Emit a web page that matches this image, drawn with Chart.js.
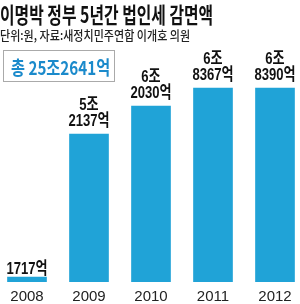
<!DOCTYPE html>
<html>
<head>
<meta charset="utf-8">
<script src="https://cdn.jsdelivr.net/npm/chart.js@4"></script>
<style>
  body { margin: 0; background: #fff; width: 300px; height: 304px; overflow: hidden; position: relative; }
  .title { position: absolute; left: 0; top: -3px; font: bold 22px "Noto Sans CJK KR"; color: #111; white-space: nowrap; transform: scaleX(0.72); transform-origin: left top; z-index: 1; }
  .sub { position: absolute; left: 0; top: 25px; font: 500 13px "Noto Sans CJK KR"; color: #222; white-space: nowrap; transform: scaleX(0.85); transform-origin: left top; z-index: 1; }
  .total { position: absolute; left: 3px; top: 50px; width: 110px; height: 30px; border: 1px solid #aaa; z-index: 1; }
  .total span { position: absolute; left: 7px; top: 2px; font: bold 19px "Noto Sans CJK KR"; color: #1b8acb; white-space: nowrap; transform: scaleX(0.8); transform-origin: left top; }
  .wrap { position: absolute; left: -4px; top: 8px; width: 310px; height: 304px; }
</style>
</head>
<body>
<div class="title">이명박 정부 5년간 법인세 감면액</div>
<div class="sub">단위:원, 자료:새정치민주연합 이개호 의원</div>
<div class="total"><span>총 25조2641억</span></div>
<div class="wrap"><canvas id="myChart"></canvas></div>
<script>
// data (unit: 억원)
const years = ['2008', '2009', '2010', '2011', '2012']
const reduction = [1717, 52137, 62030, 68367, 68390]

const barColor = '#20a3d7'
const numFont = '"Liberation Sans", "Noto Sans CJK KR", sans-serif'

// value labels above the bars: "6조" / "8367억", squeezed a bit like the print
const valueLabels = {
  id: 'valueLabels',
  afterDatasetsDraw(chart) {
    const ctx = chart.ctx
    ctx.fillStyle = '#111'
    ctx.textAlign = 'center'
    ctx.textBaseline = 'alphabetic'
    ctx.font = 'bold 17px ' + numFont
    chart.getDatasetMeta(0).data.forEach((bar, i) => {
      const v = reduction[i]
      const jo = Math.floor(v / 10000)
      const eok = v % 10000
      ctx.save()
      ctx.translate(bar.x, bar.y)
      ctx.scale(0.77, 1)
      if (jo > 0) {
        ctx.fillText(jo + '조', 0, -24)
        ctx.fillText(eok + '억', 0, -8)
      } else {
        ctx.fillText(eok + '억', 0, -3)
      }
      ctx.restore()
    })
  }
}

const ctx = document.getElementById('myChart').getContext('2d')
const myChart = new Chart(ctx, {
  type: 'bar',
  data: {
    labels: years,
    datasets: [{
      data: reduction,
      backgroundColor: barColor,
      barThickness: 39,
    }]
  },
  options: {
    responsive: true,
    maintainAspectRatio: false,
    animation: false,
    layout: { padding: 0 },
    plugins: {
      legend: { display: false },
      tooltip: { enabled: false }
    },
    scales: {
      y: {
        display: false,
        min: 0,
        max: 96600
      },
      x: {
        grid: { display: false, drawTicks: false },
        border: { display: false },
        ticks: {
          color: '#222',
          padding: 6,
          font: { family: numFont, size: 15 }
        }
      }
    }
  },
  plugins: [valueLabels]
})
</script>
</body>
</html>
